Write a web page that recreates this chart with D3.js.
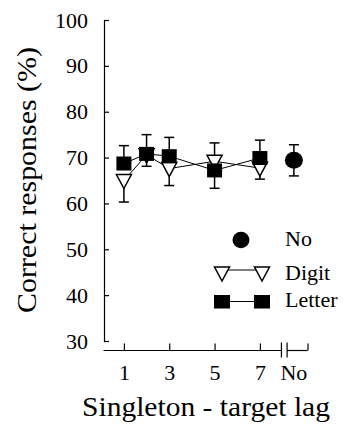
<!DOCTYPE html>
<html>
<head>
<meta charset="utf-8">
<script src="https://cdn.jsdelivr.net/npm/d3@7"></script>
<style>
  body { margin: 0; background: #fff; }
  svg text { font-family: "Liberation Serif", "Times New Roman", serif !important; fill: #000; }
</style>
</head>
<body>
<div id="chart"></div>
<script>
var width = 347,
    height = 425;

// data
var lags = [1, 2, 3, 5, 7];
var letterMean = [68.7, 70.8, 70.3, 67.2, 69.9];
var letterErr = [3.9, 4.2, 4.1, 3.9, 3.9];
var digitMean = [65.0, 70.6, 67.6, 69.2, 67.7];
var digitErr = [4.7, 2.5, 3.7, 4.0, 2.4];
var noMean = 69.4,
    noErr = 3.4;

var yTicks = [30, 40, 50, 60, 70, 80, 90, 100];
var xTicks = [1, 3, 5, 7];
var noPos = 8.5; // "No" slot sits after the axis break
var legendLabels = ["No", "Digit", "Letter"];

var svg = d3.select("#chart")
    .append("svg")
    .attr("width", width)
    .attr("height", height);

var xScale = d3.scaleLinear()
    .domain([0.1, 9.1])
    .range([103.5, 307.5]);

var yScale = d3.scaleLinear()
    .domain([30, 100])
    .range([341, 20]);

// y axis, ticks pointing inward
var yAxis = d3.axisLeft(yScale)
    .tickValues(yTicks)
    .tickSize(-5)
    .tickSizeOuter(-5)
    .tickPadding(16);

var gy = svg.append("g")
    .attr("transform", "translate(104,0)")
    .call(yAxis);
gy.attr("font-family", null).attr("font-size", null);
gy.selectAll("path, line").attr("stroke", "#000").attr("stroke-width", 1.2);
gy.selectAll("text")
    .style("font-size", "22px")
    .attr("fill", "#000");

// x axis with a break before the "No" slot
var axisY = 350.5;
var xAxis = d3.axisBottom(xScale)
    .tickValues(xTicks.concat([9.1]))
    .tickSize(-7)
    .tickPadding(14)
    .tickFormat(function(d) { return d === 9.1 ? "" : d; });

var gx = svg.append("g")
    .attr("transform", "translate(0," + axisY + ")")
    .call(xAxis);
gx.attr("font-family", null).attr("font-size", null);
gx.select(".domain").remove();
gx.selectAll("line").attr("stroke", "#000").attr("stroke-width", 1.2);
gx.selectAll("text")
    .style("font-size", "22px")
    .attr("fill", "#000");

gx.append("text")
    .attr("x", xScale(noPos))
    .attr("y", 14)
    .attr("dy", "0.71em")
    .attr("text-anchor", "middle")
    .style("font-size", "22px")
    .text("No");

var breakA = 7.95, breakB = 8.2;
gx.append("line")
    .attr("x1", xScale(0.1)).attr("x2", xScale(breakA))
    .attr("y1", 0).attr("y2", 0)
    .attr("stroke", "#000").attr("stroke-width", 1.2);
gx.append("line")
    .attr("x1", xScale(breakB)).attr("x2", xScale(9.1))
    .attr("y1", 0).attr("y2", 0)
    .attr("stroke", "#000").attr("stroke-width", 1.2);
[breakA, breakB].forEach(function(b) {
    gx.append("line")
        .attr("x1", xScale(b)).attr("x2", xScale(b))
        .attr("y1", -8).attr("y2", 7)
        .attr("stroke", "#000").attr("stroke-width", 1.2);
});

// axis titles
svg.append("text")
    .attr("transform", "translate(36,180) rotate(-90)")
    .attr("text-anchor", "middle")
    .style("font-size", "27px")
    .attr("textLength", 266)
    .attr("lengthAdjust", "spacingAndGlyphs")
    .text("Correct responses (%)");

svg.append("text")
    .attr("x", 206)
    .attr("y", 416)
    .attr("text-anchor", "middle")
    .style("font-size", "27px")
    .attr("textLength", 248)
    .attr("lengthAdjust", "spacingAndGlyphs")
    .text("Singleton - target lag");

// series lines
var line = d3.line()
    .x(function(d) { return xScale(d[0]); })
    .y(function(d) { return yScale(d[1]); });

var digitPts = lags.map(function(l, i) { return [l, digitMean[i]]; });
var letterPts = lags.map(function(l, i) { return [l, letterMean[i]]; });

svg.append("path")
    .attr("d", line(digitPts))
    .attr("fill", "none").attr("stroke", "#000").attr("stroke-width", 1);
svg.append("path")
    .attr("d", line(letterPts))
    .attr("fill", "none").attr("stroke", "#000").attr("stroke-width", 1);

// error bars: each series' bar points away from the other series
function errBar(x, y0, y1) {
    svg.append("line")
        .attr("x1", x).attr("x2", x)
        .attr("y1", y0).attr("y2", y1)
        .attr("stroke", "#000").attr("stroke-width", 1.5);
    svg.append("line")
        .attr("x1", x - 5).attr("x2", x + 5)
        .attr("y1", y1).attr("y2", y1)
        .attr("stroke", "#000").attr("stroke-width", 1.5);
}

lags.forEach(function(l, i) {
    var up = letterMean[i] >= digitMean[i] ? 1 : -1;
    errBar(xScale(l), yScale(letterMean[i]), yScale(letterMean[i] + up * letterErr[i]));
    errBar(xScale(l), yScale(digitMean[i]), yScale(digitMean[i] - up * digitErr[i]));
});
errBar(xScale(noPos), yScale(noMean), yScale(noMean + noErr));
errBar(xScale(noPos), yScale(noMean), yScale(noMean - noErr));

// markers
var triPath = "M-7.5,-6L7.5,-6L0,8Z";

svg.selectAll(".tri")
    .data(digitPts)
    .enter()
    .append("path")
    .attr("class", "tri")
    .attr("d", triPath)
    .attr("transform", function(d) {
        return "translate(" + xScale(d[0]) + "," + yScale(d[1]) + ")";
    })
    .attr("fill", "#fff")
    .attr("stroke", "#000")
    .attr("stroke-width", 1.5);

svg.selectAll(".sq")
    .data(letterPts)
    .enter()
    .append("rect")
    .attr("class", "sq")
    .attr("x", function(d) { return xScale(d[0]) - 7.5; })
    .attr("y", function(d) { return yScale(d[1]) - 7; })
    .attr("width", 15)
    .attr("height", 14)
    .attr("fill", "#000");

svg.append("ellipse")
    .attr("cx", xScale(noPos))
    .attr("cy", yScale(noMean))
    .attr("rx", 9)
    .attr("ry", 8.5)
    .attr("fill", "#000");

// legend
var lg = svg.append("g");
lg.append("ellipse")
    .attr("cx", 241).attr("cy", 240)
    .attr("rx", 8.5).attr("ry", 8.3)
    .attr("fill", "#000");

lg.append("line")
    .attr("x1", 222).attr("x2", 262)
    .attr("y1", 270).attr("y2", 270)
    .attr("stroke", "#000").attr("stroke-width", 1);
[222, 262].forEach(function(x) {
    lg.append("path")
        .attr("d", triPath)
        .attr("transform", "translate(" + x + ",273)")
        .attr("fill", "#fff")
        .attr("stroke", "#000")
        .attr("stroke-width", 1.5);
});

lg.append("line")
    .attr("x1", 222).attr("x2", 262)
    .attr("y1", 301.5).attr("y2", 301.5)
    .attr("stroke", "#000").attr("stroke-width", 1);
[222, 262].forEach(function(x) {
    lg.append("rect")
        .attr("x", x - 8).attr("y", 295)
        .attr("width", 16).attr("height", 13.5)
        .attr("fill", "#000");
});

lg.selectAll(".lgtext")
    .data(legendLabels)
    .enter()
    .append("text")
    .attr("class", "lgtext")
    .attr("x", 285)
    .attr("y", function(d, i) { return [246, 279.5, 306.5][i]; })
    .style("font-size", "22px")
    .text(function(d) { return d; });
</script>
</body>
</html>
